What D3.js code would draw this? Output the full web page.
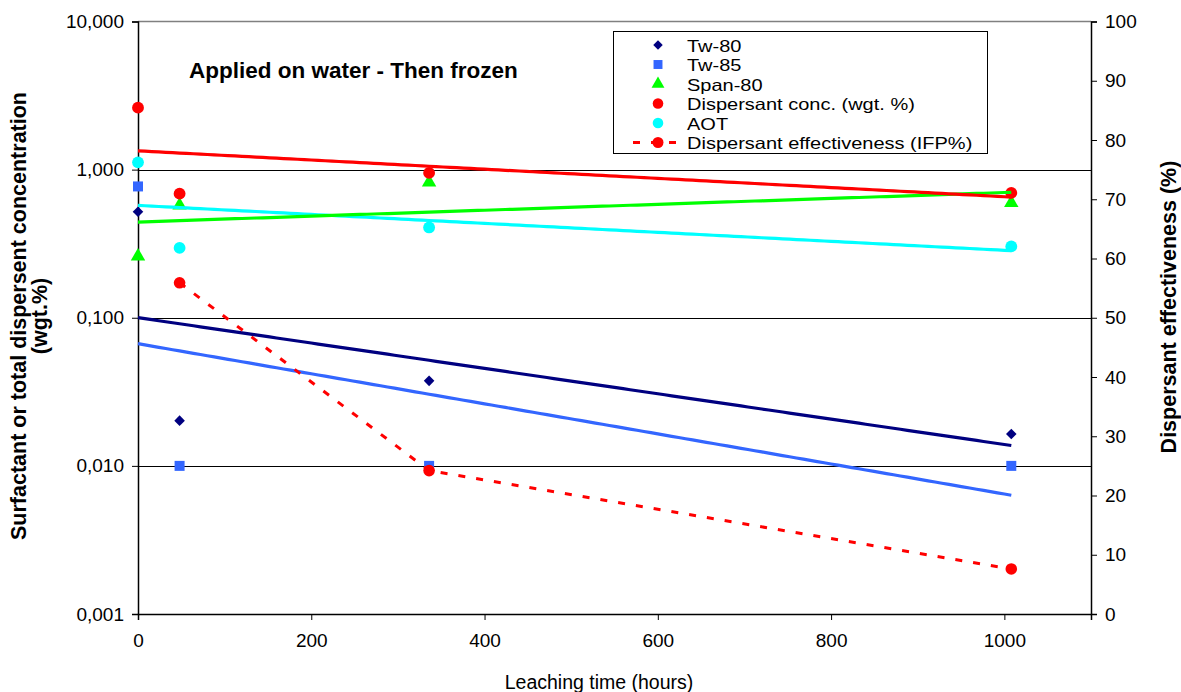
<!DOCTYPE html>
<html><head><meta charset="utf-8">
<script src="https://cdn.jsdelivr.net/npm/d3@7"></script>
<style>body{margin:0;background:#fff;font-family:"Liberation Sans",Arial,sans-serif}</style>
</head><body><svg id="c" width="1181" height="692"></svg>
<script>
const hours = [0, 48, 336, 1008];
const effHours = [48, 336, 1008];
const tw80 = [0.52, 0.0202, 0.0375, 0.0164];
const tw85 = [0.77, 0.010, 0.010, 0.010];
const span80 = [0.26, 0.573, 0.82, 0.596];
const dispConc = [2.62, 0.688, 0.95, 0.696];
const aot = [1.12, 0.296, 0.407, 0.303];
const effectiveness = [55.9, 24.2, 7.6];
const leftTicks = [0.001, 0.01, 0.1, 1, 10];
const rightTicks = [0,10,20,30,40,50,60,70,80,90,100];
const xTicks = [0,200,400,600,800,1000];
const seriesNames = ["Tw-80","Tw-85","Span-80","Dispersant conc. (wgt. %)","AOT","Dispersant effectiveness (IFP%)"];

const svg = d3.select("#c");
const x = d3.scaleLinear().domain([0,1100]).range([138,1091]);
const yL = d3.scaleLog().domain([0.001,10]).range([614,21.5]);
const yR = d3.scaleLinear().domain([0,100]).range([614,21.5]);

svg.append("line").attr("x1",x(0)).attr("x2",x(1100)).attr("y1",yL(10)).attr("y2",yL(10)).attr("stroke","#808080").attr("stroke-width",1.5);
svg.append("g").selectAll("line").data([0.01,0.1,1]).join("line")
  .attr("x1",x(0)).attr("x2",x(1100)).attr("y1",d=>Math.round(yL(d))+0.5).attr("y2",d=>Math.round(yL(d))+0.5)
  .attr("stroke","#000").attr("stroke-width",1);

const fmtL = d => d3.format(".3f")(d).replace(".",",");
const gL = svg.append("g").attr("transform",`translate(${x(0)},0)`)
  .call(d3.axisLeft(yL).tickValues(leftTicks).tickFormat(fmtL).tickSize(6).tickPadding(8));
const gR = svg.append("g").attr("transform",`translate(${x(1100)},0)`)
  .call(d3.axisRight(yR).tickValues(rightTicks).tickFormat(d3.format("d")).tickSize(6).tickPadding(8));
const gX = svg.append("g").attr("transform",`translate(0,614)`)
  .call(d3.axisBottom(x).tickValues(xTicks).tickFormat(d3.format("d")).tickSize(6).tickPadding(14));
[gL,gR,gX].forEach(g=>{
  g.selectAll("path.domain").attr("stroke","#000").attr("stroke-width",1.5);
  g.selectAll(".tick line").attr("stroke","#000");
  g.selectAll("text").attr("font-family","Liberation Sans, Arial, sans-serif").attr("font-size",19).attr("fill","#000");
});

function expFit(xs, ys){
  const ly = ys.map(Math.log10);
  const mx = d3.mean(xs), my = d3.mean(ly);
  let num=0, den=0;
  xs.forEach((v,i)=>{num+=(v-mx)*(ly[i]-my); den+=(v-mx)*(v-mx);});
  const b = num/den, a = my - b*mx;
  return xv => Math.pow(10, a + b*xv);
}
const series = [
  {name:"Tw-80", data:tw80, color:"#000080", sym:d3.symbolSquare, size:56, rot:45},
  {name:"Tw-85", data:tw85, color:"#3366FF", sym:d3.symbolSquare, size:100, rot:0},
  {name:"Span-80", data:span80, color:"#00FF00", sym:d3.symbolTriangle, size:90, rot:0},
  {name:"Dispersant conc.", data:dispConc, color:"#FF0000", sym:d3.symbolCircle, size:110, rot:0},
  {name:"AOT", data:aot, color:"#00FFFF", sym:d3.symbolCircle, size:110, rot:0}
];
const trendOrder = [4,2,3,1,0];
series.forEach(s=>{
  svg.append("g").selectAll("path").data(s.data).join("path")
    .attr("d", d3.symbol().type(s.sym).size(s.size))
    .attr("transform",(d,i)=>`translate(${x(hours[i])},${yL(d)}) rotate(${s.rot})`)
    .attr("fill", s.color);
});
trendOrder.forEach(k=>{
  const s = series[k];
  const f = expFit(hours, s.data);
  const xs = d3.range(0, 1009, 8).concat([1008]);
  svg.append("path").datum(xs)
    .attr("d", d3.line().x(d=>x(d)).y(d=>yL(f(d))))
    .attr("fill","none").attr("stroke", s.color).attr("stroke-width",3.2);
});
svg.append("path").datum(effectiveness)
  .attr("d", d3.line().x((d,i)=>x(effHours[i])).y(d=>yR(d)))
  .attr("fill","none").attr("stroke","#FF0000").attr("stroke-width",3).attr("stroke-dasharray","7,11");
svg.append("g").selectAll("circle").data(effectiveness).join("circle")
  .attr("cx",(d,i)=>x(effHours[i])).attr("cy",d=>yR(d)).attr("r",5.8).attr("fill","#FF0000");

svg.append("text").attr("x",189).attr("y",78).attr("font-size",22.5).attr("font-weight","bold").text("Applied on water - Then frozen");
svg.append("text").attr("x",599).attr("y",689).attr("text-anchor","middle").attr("font-size",19.5).text("Leaching time (hours)");
const lt = svg.append("text").attr("transform","translate(26,316) rotate(-90)").attr("text-anchor","middle").attr("font-size",21.5).attr("font-weight","bold");
lt.append("tspan").attr("x",0).attr("dy",0).text("Surfactant or total dispersent concentration");
lt.append("tspan").attr("x",0).attr("dy",21).text("(wgt.%)");
svg.append("text").attr("transform","translate(1176,307) rotate(-90)").attr("text-anchor","middle").attr("font-size",21.5).attr("font-weight","bold").text("Dispersant effectiveness (%)");

const lg = svg.append("g");
lg.append("rect").attr("x",613.5).attr("y",31.5).attr("width",374).attr("height",122).attr("fill","#fff").attr("stroke","#000").attr("stroke-width",1);
seriesNames.forEach((n,i)=>{
  const yy = 45 + i*19.5;
  if(i<5){
    const s = series[i];
    lg.append("path").attr("d", d3.symbol().type(s.sym).size(s.size*0.8)).attr("transform",`translate(658,${yy}) rotate(${s.rot})`).attr("fill",s.color);
  } else {
    lg.append("line").attr("x1",633).attr("x2",680).attr("y1",yy).attr("y2",yy).attr("stroke","#FF0000").attr("stroke-width",3).attr("stroke-dasharray","7,11");
    lg.append("circle").attr("cx",658).attr("cy",yy).attr("r",5.5).attr("fill","#FF0000");
  }
  const t = lg.append("text").attr("x",687).attr("y",yy+6.5).attr("font-size",16.5).text(n);
  const w = t.node().getComputedTextLength();
  t.attr("textLength", w*20/16.5).attr("lengthAdjust","spacingAndGlyphs");
});
</script></body></html>
